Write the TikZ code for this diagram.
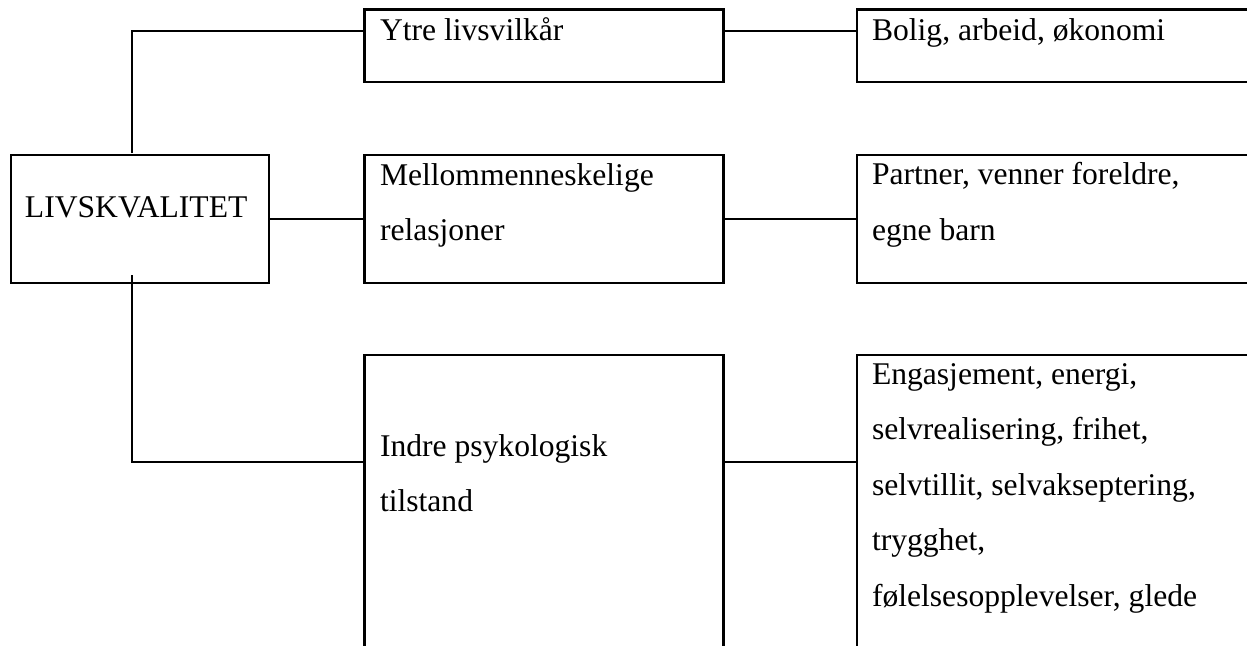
\documentclass[tikz,border=0pt]{standalone}
\usepackage{fontspec}
\setmainfont{Liberation Serif}
\begin{document}
\begin{tikzpicture}[x=0.5pt,y=-0.5pt,
  box/.style={draw, line width=1.15pt, inner sep=0pt, outer sep=0pt},
  conn/.style={line width=0.95pt},
  txt/.style={anchor=base west, inner sep=0pt, outer sep=0pt, font=\fontsize{15.8}{19}\selectfont}]
\useasboundingbox (0,0) rectangle (1247,645);
\clip (0,0) rectangle (1247,645);
% boxes
\node[box, minimum width=129pt, minimum height=64pt] (L) at (140,219) {};
\node[box, minimum width=179.5pt, minimum height=36.25pt] (Y) at (544,45.75) {};
\node[box, minimum width=179.5pt, minimum height=64pt] (M) at (544,219) {};
\node[box, minimum width=179.5pt, minimum height=172.5pt] (I) at (544,527.5) {};
\node[box, minimum width=201.5pt, minimum height=36.25pt] (B) at (1058.5,45.75) {};
\node[box, minimum width=201.5pt, minimum height=64pt] (P) at (1058.5,219) {};
\node[box, minimum width=201.5pt, minimum height=172.5pt] (E) at (1058.5,527.5) {};
% texts
\node[txt] (tL) at (25,217) {LIVSKVALITET};
\node[txt] (tY) at (380,40) {Ytre livsvilkår};
\node[txt] (tM1) at (380,185) {Mellommenneskelige};
\node[txt] (tM2) at (380,240) {relasjoner};
\node[txt] (tI1) at (380,456) {Indre psykologisk};
\node[txt] (tI2) at (380,511.5) {tilstand};
\node[txt] (tB) at (872,40) {Bolig, arbeid, økonomi};
\node[txt] (tP1) at (872,184) {Partner, venner foreldre,};
\node[txt] (tP2) at (872,240) {egne barn};
\node[txt] (tE1) at (872,384) {Engasjement, energi,};
\node[txt] (tE2) at (872,439.5) {selvrealisering, frihet,};
\node[txt] (tE3) at (872,495) {selvtillit, selvakseptering,};
\node[txt] (tE4) at (872,550.5) {trygghet,};
\node[txt] (tE5) at (872,606) {følelsesopplevelser, glede};
% connector points
\coordinate (c1) at (132,153);
\coordinate (c2) at (132,275);
% connectors
\draw[conn] (c1) |- ([yshift=-10.75pt]Y.north west);
\draw[conn] ([yshift=7.375pt]Y.east) -- ([yshift=7.375pt]B.west);
\draw[conn] (L.east) -- (M.west);
\draw[conn] (M.east) -- (P.west);
\draw[conn] (c2) |- ([yshift=-53.35pt]I.north west);
\draw[conn] ([yshift=32.9pt]I.east) -- ([yshift=32.9pt]E.west);
\end{tikzpicture}
\end{document}
